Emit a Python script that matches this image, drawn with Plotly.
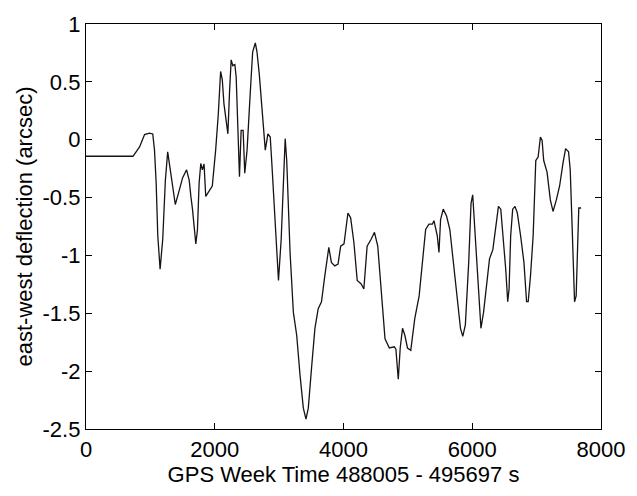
import plotly.graph_objects as go

# GPS week time offset (s) and east-west deflection (arcsec)
time_s = [0, 730, 832, 910, 986, 1037, 1064, 1090, 1115, 1151, 1192, 1233, 1269, 1320, 1387,
          1438, 1500, 1562, 1603, 1629, 1654, 1706, 1731, 1757, 1783, 1808, 1834, 1860, 1911,
          1962, 2014, 2055, 2091, 2117, 2143, 2178, 2204, 2230, 2255, 2281, 2312, 2333, 2358,
          2384, 2410, 2441, 2466, 2502, 2553, 2589, 2630, 2656, 2692, 2733, 2785, 2826, 2862,
          2887, 2939, 2990, 3032, 3094, 3118, 3170, 3221, 3273, 3324, 3376, 3417, 3453, 3504,
          3556, 3607, 3658, 3710, 3772, 3812, 3864, 3915, 3956, 4008, 4069, 4111, 4162, 4213,
          4275, 4316, 4367, 4429, 4481, 4532, 4583, 4645, 4712, 4789, 4814, 4851, 4881, 4917,
          4953, 4994, 5045, 5107, 5175, 5225, 5276, 5328, 5380, 5405, 5457, 5483, 5508, 5549,
          5601, 5652, 5703, 5765, 5817, 5853, 5893, 5945, 5981, 6007, 6032, 6073, 6114, 6135,
          6176, 6227, 6268, 6320, 6371, 6407, 6443, 6484, 6520, 6551, 6572, 6597, 6628, 6664,
          6700, 6751, 6803, 6844, 6869, 6905, 6946, 6987, 7023, 7059, 7085, 7110, 7162, 7213,
          7255, 7306, 7357, 7409, 7450, 7496, 7522, 7553, 7589, 7614, 7640, 7655, 7691]
deflection = [-0.143, -0.143, -0.063, 0.045, 0.057, 0.05, -0.09, -0.376, -0.83, -1.118, -0.86,
               -0.35, -0.105, -0.29, -0.56, -0.46, -0.33, -0.26, -0.35, -0.49, -0.6, -0.9, -0.78,
               -0.376, -0.205, -0.26, -0.21, -0.49, -0.45, -0.40, -0.09, 0.22, 0.59, 0.52, 0.31,
               0.165, 0.051, 0.42, 0.69, 0.64, 0.65, 0.54, 0.137, -0.32, 0.08, 0.08, -0.29, -0.09,
               0.42, 0.76, 0.836, 0.76, 0.565, 0.28, -0.09, 0.05, 0.023, -0.205, -0.72, -1.217,
               -0.86, 0.009, -0.18, -0.975, -1.49, -1.69, -2.03, -2.32, -2.415, -2.32, -1.97,
               -1.63, -1.46, -1.40, -1.175, -0.93, -1.06, -1.09, -1.075, -0.92, -0.90, -0.633,
               -0.675, -0.89, -1.217, -1.246, -1.29, -0.92, -0.86, -0.80, -0.92, -1.26, -1.72,
               -1.80, -1.79, -1.81, -2.07, -1.80, -1.63, -1.69, -1.80, -1.82, -1.546, -1.35,
               -1.03, -0.776, -0.73, -0.73, -0.70, -0.83, -0.975, -0.69, -0.60, -0.66, -0.776,
               -1.03, -1.32, -1.63, -1.70, -1.60, -1.06, -0.55, -0.476, -0.72, -1.12, -1.49,
               -1.63, -1.49, -1.20, -1.03, -0.95, -0.75, -0.576, -0.60, -0.86, -1.12, -1.40,
               -1.29, -0.83, -0.60, -0.576, -0.633, -0.83, -1.06, -1.40, -1.40, -1.175, -0.83,
               -0.18, -0.15, 0.023, -0.006, -0.18, -0.28, -0.52, -0.62, -0.52, -0.40, -0.205,
               -0.077, -0.105, -0.26, -0.776, -1.40, -1.35, -0.83, -0.59, -0.59]

x_ticks = [0, 2000, 4000, 6000, 8000]
x_tick_labels = ["0", "2000", "4000", "6000", "8000"]
y_ticks = [-2.5, -2, -1.5, -1, -0.5, 0, 0.5, 1]
y_tick_labels = ["-2.5", "-2", "-1.5", "-1", "-0.5", "0", "0.5", "1"]

FONT = "Liberation Sans, Arial, sans-serif"

fig = go.Figure()
fig.add_trace(go.Scatter(x=time_s, y=deflection, mode="lines",
                         line=dict(color="#1a1212", width=1.3), showlegend=False))

axis_common = dict(showline=True, linecolor="black", linewidth=1.3, mirror="ticks",
                   ticks="inside", ticklen=6, tickwidth=1, tickcolor="black",
                   showgrid=False, zeroline=False,
                   tickfont=dict(family=FONT, size=22, color="black"))

fig.update_xaxes(range=[0, 8000], tickvals=x_ticks, ticktext=x_tick_labels,
                 title=dict(text="GPS Week Time 488005 - 495697 s",
                            font=dict(family=FONT, size=22, color="black"), standoff=5),
                 **axis_common)
fig.update_yaxes(range=[-2.5, 1], tickvals=y_ticks, ticktext=y_tick_labels,
                 title=dict(text="east-west deflection (arcsec)",
                            font=dict(family=FONT, size=22, color="black"), standoff=3),
                 **axis_common)

fig.update_layout(width=637, height=496, margin=dict(l=86, r=32, t=20, b=67),
                  paper_bgcolor="white", plot_bgcolor="white",
                  font=dict(family=FONT, size=22, color="black"))

fig.write_html("out.html")
